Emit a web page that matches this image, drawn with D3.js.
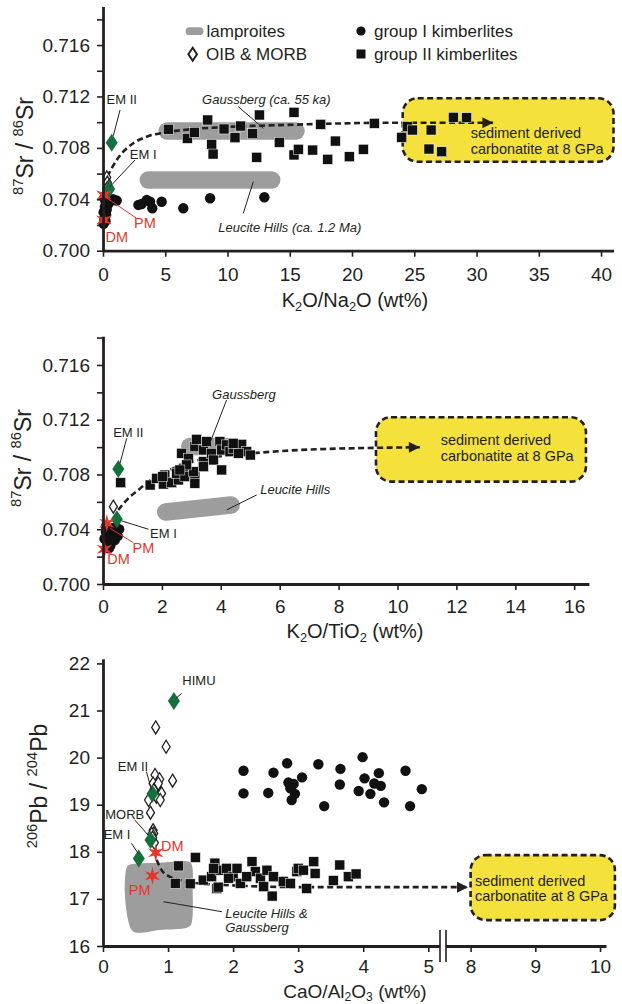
<!DOCTYPE html>
<html>
<head>
<meta charset="utf-8">
<script src="https://cdn.jsdelivr.net/npm/d3@7"></script>
<style>
  body { margin: 0; background: #fff; }
  svg { display: block; font-family: "Liberation Sans", Arial, Helvetica, sans-serif; }
</style>
</head>
<body>
<script>
var width = 622,
    height = 1004,
    ink = "#231f20",
    green = "#16703d",
    red = "#e2382c",
    grey = "#9d9d9d",
    yellow = "#f5e13b";

// ---- panel 1 : 87Sr/86Sr vs K2O/Na2O ----
var p1XTicks = [0, 5, 10, 15, 20, 25, 30, 35, 40];
var p1YTicks = [0.700, 0.702, 0.704, 0.706, 0.708, 0.710, 0.712, 0.714, 0.716, 0.718];
var p1Group1 = [[0.05, 0.7030], [0.1, 0.7025], [0.15, 0.7034], [0.2, 0.7038], [0.3, 0.7032], [0.4, 0.7036],
  [0.55, 0.7038], [0.8, 0.7040], [1.1, 0.7039], [0.25, 0.7028], [0.1, 0.7041], [0.35, 0.7040], [0.05, 0.7021],
  [0.2, 0.7023], [2.84, 0.70356], [3.1, 0.70363], [3.51, 0.70394], [3.78, 0.70381], [3.96, 0.7033],
  [4.71, 0.70381], [6.45, 0.7033], [8.6, 0.70408], [12.96, 0.70416]];
var p1Group2 = [[5.25, 0.70945], [6.77, 0.70874], [7.33, 0.70921], [8.41, 0.71017], [8.73, 0.70828],
  [8.84, 0.70752], [9.72, 0.70947], [10.6, 0.70879], [11.06, 0.7097], [12.02, 0.7091], [12.56, 0.71056],
  [12.35, 0.70727], [14.16, 0.70843], [15.34, 0.71077], [15.34, 0.70745], [15.69, 0.70789], [16.84, 0.70783],
  [17.48, 0.70983], [18.05, 0.70711], [18.66, 0.70853], [19.78, 0.70731], [20.91, 0.70789], [21.79, 0.70991],
  [23.99, 0.70882], [24.44, 0.70965], [24.85, 0.70939], [26.35, 0.70939], [26.18, 0.70791], [27.2, 0.7077],
  [28.14, 0.71038], [29.2, 0.71035]];
var p1Oib = [[0.3, 0.7057], [0.35, 0.7053], [0.45, 0.7050], [0.3, 0.7048]];
var p1EndMembers = [{name: "EM II", x: 0.7, y: 0.7084}, {name: "EM I", x: 0.5, y: 0.7048}];
var p1Mantle = [{name: "PM", x: 0.08, y: 0.70433}, {name: "DM", x: 0.08, y: 0.70239}];
var p1Lamproites = [
  {name: "Gaussberg (ca. 55 ka)", from: [5.16, 0.70931], to: [15.5, 0.70931]},
  {name: "Leucite Hills (ca. 1.2 Ma)", from: [3.64, 0.70550], to: [13.55, 0.70550]}];
var p1Trend = [[0.35, 0.70576], [0.7, 0.70641], [1.1, 0.70706], [1.63, 0.7077], [2.43, 0.70836],
  [3.51, 0.70887], [4.84, 0.70918], [6.45, 0.70939], [10.47, 0.70965], [14.48, 0.70978],
  [23.86, 0.70996], [31.35, 0.70996]];
var p1Box = {x0: 24.07, x1: 41.0, y0: 0.70692, y1: 0.71186};

// ---- panel 2 : 87Sr/86Sr vs K2O/TiO2 ----
var p2XTicks = [0, 2, 4, 6, 8, 10, 12, 14, 16];
var p2YTicks = [0.700, 0.702, 0.704, 0.706, 0.708, 0.710, 0.712, 0.714, 0.716, 0.718];
var p2Group1 = [[0.1, 0.7038], [0.2, 0.7034], [0.3, 0.7036], [0.15, 0.7030], [0.25, 0.7028], [0.35, 0.7041],
  [0.45, 0.7039], [0.5, 0.7035], [0.4, 0.7032], [0.1, 0.7042], [0.2, 0.7026], [0.05, 0.7033], [0.55, 0.7040]];
var p2Group2 = [[0.6, 0.7074], [1.6, 0.70723], [1.82, 0.70772], [2.1, 0.70796], [2.05, 0.7073], [2.33, 0.7074],
  [2.56, 0.7076], [2.5, 0.70809], [2.73, 0.70845], [2.78, 0.70784], [3.12, 0.70784], [3.07, 0.7082],
  [2.67, 0.70955], [2.9, 0.70918], [3.12, 0.71003], [3.18, 0.71057], [3.41, 0.70979], [3.52, 0.7104],
  [3.41, 0.70894], [3.69, 0.70955], [3.75, 0.70906], [3.97, 0.7104], [4.03, 0.70979], [4.2, 0.71016],
  [4.03, 0.70833], [4.31, 0.70967], [4.42, 0.70991], [4.71, 0.7102], [4.88, 0.70967], [4.6, 0.70955],
  [2.84, 0.7087], [5.0, 0.70942], [4.42, 0.71028], [3.41, 0.70857], [3.12, 0.70736], [2.61, 0.70833],
  [2.03, 0.70784]];
var p2Oib = [[0.35, 0.70565]];
var p2EndMembers = [{name: "EM II", x: 0.52, y: 0.7084}, {name: "EM I", x: 0.47, y: 0.70473}];
var p2Mantle = [{name: "PM", x: 0.13, y: 0.70443}, {name: "DM", x: 0.05, y: 0.70254}];
var p2Lamproites = [
  {name: "Gaussberg", from: [2.95, 0.71005], to: [4.2, 0.71005]},
  {name: "Leucite Hills", from: [2.13, 0.70526], to: [4.35, 0.70577]}];
var p2Trend = [[0.52, 0.70541], [0.86, 0.70626], [1.2, 0.70687], [1.54, 0.70747], [2.27, 0.70833],
  [3.29, 0.70906], [4.31, 0.70942], [5.05, 0.70955], [6.69, 0.70979], [10.76, 0.70999]];
var p2Box = {x0: 9.27, x1: 16.4, y0: 0.70748, y1: 0.71218};

// ---- panel 3 : 206Pb/204Pb vs CaO/Al2O3 (broken x axis) ----
var p3XTicks = [0, 1, 2, 3, 4, 5, 8, 9, 10];
var p3YTicks = [16, 17, 18, 19, 20, 21, 22];
var p3Group1 = [[2.16, 19.72], [2.16, 19.24], [2.54, 19.25], [2.62, 19.68], [2.83, 19.88], [2.85, 19.47],
  [2.93, 19.44], [3.06, 19.58], [2.95, 19.23], [2.9, 19.1], [3.31, 19.86], [3.65, 19.76], [3.64, 19.43],
  [3.4, 18.97], [3.99, 20.01], [4.02, 19.56], [4.24, 19.67], [4.17, 19.45], [4.27, 19.4], [3.93, 19.29],
  [4.11, 19.23], [4.32, 19.05], [4.65, 19.72], [4.72, 18.97], [4.9, 19.33], [2.88, 19.35]];
var p3Group2 = [[1.42, 17.88], [1.16, 17.7], [1.11, 17.33], [1.34, 17.32], [1.54, 17.4], [1.72, 17.76],
  [1.75, 17.22], [1.67, 17.47], [1.8, 17.61], [1.9, 17.65], [2.0, 17.47], [2.06, 17.65], [1.93, 17.44],
  [2.11, 17.33], [2.29, 17.79], [2.34, 17.58], [2.21, 17.47], [2.42, 17.44], [2.52, 17.61], [2.62, 17.47],
  [2.6, 17.06], [2.77, 17.37], [2.98, 17.58], [2.47, 17.26], [2.88, 17.33], [1.7, 17.65], [3.0, 17.65],
  [3.13, 17.22], [3.24, 17.79], [3.26, 17.54], [3.08, 17.61], [3.64, 17.72], [3.77, 17.47], [3.89, 17.53],
  [3.54, 17.39], [1.77, 17.25]];
var p3Oib = [[0.81, 20.64], [0.97, 20.23], [1.07, 19.51], [0.8, 19.63], [0.87, 19.54], [0.77, 19.45],
  [0.83, 19.38], [0.9, 19.24], [0.7, 19.1], [0.82, 19.17], [0.73, 18.83], [0.77, 18.46], [0.78, 18.39],
  [0.75, 18.38], [0.79, 18.19], [0.78, 19.31], [0.85, 19.45], [0.88, 19.1], [0.76, 18.3]];
var p3EndMembers = [{name: "HIMU", x: 1.09, y: 21.2}, {name: "EM II", x: 0.76, y: 19.23},
  {name: "MORB", x: 0.73, y: 18.25}, {name: "EM I", x: 0.55, y: 17.86}];
var p3Mantle = [{name: "DM", x: 0.81, y: 17.98}, {name: "PM", x: 0.76, y: 17.49}];
// outline of the Leucite Hills & Gaussberg field
var p3Lamproites = [[0.415, 17.73], [0.876, 17.77], [1.276, 17.80], [1.353, 17.76], [1.379, 17.13],
  [1.353, 16.45], [1.291, 16.39], [0.876, 16.34], [0.538, 16.28], [0.446, 16.33], [0.338, 17.04],
  [0.369, 17.68]];
var p3Trend = [[0.825, 17.83], [0.9, 17.61], [1.03, 17.47], [1.18, 17.4], [1.39, 17.34], [1.95, 17.29],
  [3.03, 17.25], [7.96, 17.25]];
var p3Box = {x0: 8.0, x1: 10.23, y0: 16.55, y1: 17.93};

// ---- scales ----
var x1 = d3.scaleLinear().domain([0, 41]).range([103, 613.5]),
    y1 = d3.scaleLinear().domain([0.700, 0.719]).range([250.7, 6.5]),
    x2 = d3.scaleLinear().domain([0, 16.5]).range([103, 588.9]),
    y2 = d3.scaleLinear().domain([0.700, 0.7181]).range([584, 336.2]),
    x3 = d3.scaleLinear().domain([0, 5.18, 7.62, 10.1]).range([103, 440, 446, 606.5]),
    y3 = d3.scaleLinear().domain([16, 22.1]).range([946, 658.7]);

var svg = d3.select("body").append("svg")
    .attr("width", width)
    .attr("height", height);

var defs = svg.append("defs");
defs.append("marker")
    .attr("id", "arrow")
    .attr("viewBox", "0 0 10 10")
    .attr("refX", 10).attr("refY", 5)
    .attr("markerUnits", "userSpaceOnUse")
    .attr("markerWidth", 17).attr("markerHeight", 11)
    .attr("orient", "auto")
  .append("path")
    .attr("d", "M0,0L10,5L0,10Z")
    .attr("fill", ink);

// symbol shapes
function diamond(hw, hh) {
  return { draw: function(c) {
    c.moveTo(0, -hh); c.lineTo(hw, 0); c.lineTo(0, hh); c.lineTo(-hw, 0); c.closePath();
  }};
}
var star6 = { draw: function(c) {
  for (var i = 0; i < 12; i++) {
    var a = Math.PI * i / 6 - Math.PI / 2, r = i % 2 ? 3.2 : 9;
    if (i) c.lineTo(r * Math.cos(a), r * Math.sin(a)); else c.moveTo(r * Math.cos(a), r * Math.sin(a));
  }
  c.closePath();
}};

// text with sub/superscripts: parts = [[text, "sub"|"sup"|undefined], ...]
function rich(text, parts, size) {
  var shift = 0;
  parts.forEach(function(p) {
    var s = p[1] === "sub" ? size * 0.2 : p[1] === "sup" ? -size * 0.42 : 0;
    text.append("tspan")
        .attr("dy", s - shift)
        .attr("font-size", p[1] ? size * 0.64 : size)
        .text(p[0]);
    shift = s;
  });
  return text;
}

function styleAxis(g) {
  g.attr("font-family", null).attr("font-size", 19);
  g.selectAll("text").attr("fill", ink);
  g.selectAll(".tick line").attr("stroke", ink).attr("stroke-width", 1.6);
  g.select(".domain").attr("stroke", ink).attr("stroke-width", 2.8);
}

function axes(g, x, y, xTicks, yTicks, yFmt, xPad) {
  g.append("g")
      .attr("transform", "translate(0," + y.range()[0] + ")")
      .call(d3.axisBottom(x).tickValues(xTicks).tickSize(6).tickPadding(xPad).tickSizeOuter(0))
      .call(styleAxis);
  g.append("g")
      .attr("transform", "translate(" + x.range()[0] + ",0)")
      .call(d3.axisLeft(y).tickValues(yTicks).tickFormat(yFmt).tickSize(6).tickPadding(7).tickSizeOuter(0))
      .call(styleAxis);
}

function yTitle(g, cx, cy, parts) {
  rich(g.append("text")
      .attr("transform", "translate(" + cx + "," + cy + ") rotate(-90)")
      .attr("text-anchor", "middle")
      .attr("fill", ink), parts, 23);
}

function xTitle(g, cy, parts, size) {
  rich(g.append("text")
      .attr("x", 355).attr("y", cy)
      .attr("text-anchor", "middle")
      .attr("fill", ink), parts, size || 20);
}

function box(g, x, y, b, dx, dy) {
  g.append("rect")
      .attr("x", x(b.x0)).attr("y", y(b.y1))
      .attr("width", x(b.x1) - x(b.x0)).attr("height", y(b.y0) - y(b.y1))
      .attr("rx", 15).attr("ry", 15)
      .attr("fill", yellow)
      .attr("stroke", ink).attr("stroke-width", 2.6)
      .attr("stroke-dasharray", "6,3.5");
  var t = g.append("text")
      .attr("x", x(b.x0) + dx).attr("y", y(b.y1) + dy)
      .attr("font-size", 14.5).attr("fill", ink);
  t.append("tspan").attr("x", x(b.x0) + dx).attr("dy", "0.35em").text("sediment derived");
  t.append("tspan").attr("x", x(b.x0) + dx).attr("dy", 15.5).text("carbonatite at 8 GPa");
}

function trend(g, x, y, pts) {
  g.append("path")
      .datum(pts)
      .attr("d", d3.line().x(function(d) { return x(d[0]); }).y(function(d) { return y(d[1]); })
        .curve(d3.curveMonotoneX))
      .attr("fill", "none")
      .attr("stroke", ink).attr("stroke-width", 2.6)
      .attr("stroke-dasharray", "6,3.5")
      .attr("marker-end", "url(#arrow)");
}

function band(g, x, y, b, w) {
  g.append("line")
      .attr("x1", x(b.from[0])).attr("y1", y(b.from[1]))
      .attr("x2", x(b.to[0])).attr("y2", y(b.to[1]))
      .attr("stroke", grey).attr("stroke-width", w)
      .attr("stroke-linecap", "round");
}

function points(g, x, y, g1, g2, oib, ends, mantle) {
  g.selectAll(null).data(g2).enter().append("rect")
      .attr("x", function(d) { return x(d[0]) - 5; })
      .attr("y", function(d) { return y(d[1]) - 5; })
      .attr("width", 10).attr("height", 10)
      .attr("fill", "#111").attr("stroke", "#fff").attr("stroke-width", 0.5);
  g.selectAll(null).data(g1).enter().append("circle")
      .attr("cx", function(d) { return x(d[0]); })
      .attr("cy", function(d) { return y(d[1]); })
      .attr("r", 5.2)
      .attr("fill", "#111");
  g.selectAll(null).data(oib).enter().append("path")
      .attr("transform", function(d) { return "translate(" + x(d[0]) + "," + y(d[1]) + ")"; })
      .attr("d", d3.symbol().type(diamond(4, 6.5)))
      .attr("fill", "#fff").attr("stroke", ink).attr("stroke-width", 1.3);
  g.selectAll(null).data(ends).enter().append("path")
      .attr("transform", function(d) { return "translate(" + x(d.x) + "," + y(d.y) + ")"; })
      .attr("d", d3.symbol().type(diamond(6, 9)))
      .attr("fill", green);
  g.selectAll(null).data(mantle).enter().append("path")
      .attr("transform", function(d) { return "translate(" + x(d.x) + "," + y(d.y) + ")"; })
      .attr("d", d3.symbol().type(star6))
      .attr("fill", red);
}

// annotation placed at a pixel offset from a data anchor, with optional leader line
function note(g, x, y, d, o) {
  var px = x(d.x), py = y(d.y), col = o.color || ink;
  if (o.l) {
    g.append("line")
        .attr("x1", px + o.l[0]).attr("y1", py + o.l[1])
        .attr("x2", px + o.l[2]).attr("y2", py + o.l[3])
        .attr("stroke", col).attr("stroke-width", 1);
  }
  var lines = o.text.split("\n");
  var t = g.append("text")
      .attr("font-size", o.size || 13)
      .attr("font-style", o.italic ? "italic" : null)
      .attr("text-anchor", o.anchor || "middle")
      .attr("fill", col);
  lines.forEach(function(s, i) {
    t.append("tspan")
        .attr("x", px + o.dx)
        .attr("y", py + o.dy + i * 14)
        .attr("dy", "0.35em")
        .text(s);
  });
}

// ---------- panel 1 ----------
var g1 = svg.append("g");
box(g1, x1, y1, p1Box, 68, 35);
p1Lamproites.forEach(function(b) { band(g1, x1, y1, b, 17.5); });
trend(g1, x1, y1, p1Trend);
points(g1, x1, y1, p1Group1, p1Group2, p1Oib, p1EndMembers, p1Mantle);
axes(g1, x1, y1, p1XTicks, p1YTicks, function(d, i) { return i % 2 ? "" : d3.format(".3f")(d); }, 11);
yTitle(g1, 33, 146, [["87", "sup"], ["Sr / "], ["86", "sup"], ["Sr"]]);
xTitle(g1, 307, [["K"], ["2", "sub"], ["O/Na"], ["2", "sub"], ["O (wt%)"]]);

note(g1, x1, y1, p1EndMembers[0], {text: "EM II", dx: 10, dy: -43.4, l: [8.3, -32.7, 1.6, -7]});
note(g1, x1, y1, p1EndMembers[1], {text: "EM I", dx: 34, dy: -34.7, l: [25.7, -29, 0.7, -2.3]});
note(g1, x1, y1, p1Mantle[0], {text: "PM", dx: 41, dy: 28.3, size: 14.5, color: red, l: [32.7, 23.3, 1, 1.7]});
note(g1, x1, y1, p1Mantle[1], {text: "DM", dx: 12.7, dy: 17.3, size: 14.5, color: red});
note(g1, x1, y1, {x: 12.88, y: 0.70952}, {text: p1Lamproites[0].name, italic: true, anchor: "start",
  dx: -61.3, dy: -29.3, l: [-25, -21.6, 0, 0]});
note(g1, x1, y1, {x: 12.07, y: 0.70537}, {text: p1Lamproites[1].name, italic: true, anchor: "start",
  dx: -35, dy: 46, l: [-10, 31.6, 0, 0]});

// legend
var lg = svg.append("g").attr("font-size", 17).attr("fill", ink);
lg.append("line").attr("x1", 189.5).attr("x2", 199.5).attr("y1", 31.2).attr("y2", 31.2)
    .attr("stroke", grey).attr("stroke-width", 7.8).attr("stroke-linecap", "round");
lg.append("text").attr("x", 206.5).attr("y", 30.8).attr("dy", "0.35em").text("lamproites");
lg.append("path").attr("transform", "translate(192.7,54.3)")
    .attr("d", d3.symbol().type(diamond(4.3, 6.5)))
    .attr("fill", "#fff").attr("stroke", ink).attr("stroke-width", 2);
lg.append("text").attr("x", 206).attr("y", 54.3).attr("dy", "0.35em").text("OIB & MORB");
lg.append("circle").attr("cx", 361).attr("cy", 31).attr("r", 4.6).attr("fill", "#111");
lg.append("text").attr("x", 374).attr("y", 30.8).attr("dy", "0.35em").text("group I kimberlites");
lg.append("rect").attr("x", 356.5).attr("y", 49.5).attr("width", 9).attr("height", 9).attr("fill", "#111");
lg.append("text").attr("x", 374).attr("y", 54.3).attr("dy", "0.35em").text("group II kimberlites");

// ---------- panel 2 ----------
var g2 = svg.append("g");
box(g2, x2, y2, p2Box, 64.7, 22.7);
p2Lamproites.forEach(function(b) { band(g2, x2, y2, b, 17.5); });
trend(g2, x2, y2, p2Trend);
points(g2, x2, y2, p2Group1, p2Group2, p2Oib, p2EndMembers, p2Mantle);
axes(g2, x2, y2, p2XTicks, p2YTicks, function(d, i) { return i % 2 ? "" : d3.format(".3f")(d); }, 10);
yTitle(g2, 31, 458, [["87", "sup"], ["Sr / "], ["86", "sup"], ["Sr"]]);
xTitle(g2, 638, [["K"], ["2", "sub"], ["O/TiO"], ["2", "sub"], [" (wt%)"]]);

note(g2, x2, y2, p2EndMembers[0], {text: "EM II", dx: 10, dy: -36.3, l: [8.4, -30.7, 1.7, -5.7]});
note(g2, x2, y2, p2EndMembers[1], {text: "EM I", dx: 46.6, dy: 14, l: [31.6, 10, 5, 1.7]});
note(g2, x2, y2, p2Mantle[0], {text: "PM", dx: 36.6, dy: 25, size: 14.5, color: red, l: [26.6, 19.4, 3.3, 5]});
note(g2, x2, y2, p2Mantle[1], {text: "DM", dx: 14, dy: 10, size: 14.5, color: red});
note(g2, x2, y2, {x: 3.63, y: 0.71028}, {text: p2Lamproites[0].name, italic: true,
  dx: 34, dy: -49.3, l: [16.7, -43.3, 0, 0]});
note(g2, x2, y2, {x: 4.2, y: 0.70541}, {text: p2Lamproites[1].name, italic: true, anchor: "start",
  dx: 33.5, dy: -20, l: [30, -15, 0, 0]});

// ---------- panel 3 ----------
var g3 = svg.append("g");
g3.append("path")
    .datum(p3Lamproites)
    .attr("d", d3.line().x(function(d) { return x3(d[0]); }).y(function(d) { return y3(d[1]); })
      .curve(d3.curveCatmullRomClosed.alpha(0.5)))
    .attr("fill", grey);
box(g3, x3, y3, p3Box, 4.3, 25.7);
trend(g3, x3, y3, p3Trend);
points(g3, x3, y3, p3Group1, p3Group2, p3Oib, p3EndMembers, p3Mantle);
axes(g3, x3, y3, p3XTicks, p3YTicks, d3.format("d"), 8);

// broken x axis: two segments with a double bar at the gap
var xb = g3.select("g");
xb.select(".domain").remove();
[[0, 5.18], [7.62, 10.1]].forEach(function(s) {
  g3.append("line")
      .attr("x1", x3(s[0])).attr("x2", x3(s[1]))
      .attr("y1", y3(16) + 0.5).attr("y2", y3(16) + 0.5)
      .attr("stroke", ink).attr("stroke-width", 2.8);
});
[5.18, 7.62].forEach(function(v) {
  g3.append("line")
      .attr("x1", x3(v)).attr("x2", x3(v))
      .attr("y1", y3(16) - 16).attr("y2", y3(16) + 16)
      .attr("stroke", ink).attr("stroke-width", 1.6);
});

yTitle(g3, 47, 786, [["206", "sup"], ["Pb / "], ["204", "sup"], ["Pb"]]);
xTitle(g3, 997.5, [["CaO/Al"], ["2", "sub"], ["O"], ["3", "sub"], [" (wt%)"]], 19);

note(g3, x3, y3, p3EndMembers[0], {text: "HIMU", dx: 25, dy: -20.3, l: [7.7, -7.7, 2, -2.7]});
note(g3, x3, y3, p3EndMembers[1], {text: "EM II", dx: -19.4, dy: -27.3, l: [-6, -22.3, -1, -4]});
note(g3, x3, y3, p3EndMembers[2], {text: "MORB", dx: -25.7, dy: -26, l: [-15.7, -20, -2.4, -5]});
note(g3, x3, y3, p3EndMembers[3], {text: "EM I", dx: -21.7, dy: -24, l: [-7.3, -15, -0.7, -5]});
note(g3, x3, y3, p3Mantle[0], {text: "DM", dx: 16.6, dy: -7, size: 14.5, color: red});
note(g3, x3, y3, p3Mantle[1], {text: "PM", dx: -12.7, dy: 14, size: 14.5, color: red});
note(g3, x3, y3, {x: 0.93, y: 16.94}, {text: "Leucite Hills &\nGaussberg", italic: true, anchor: "start",
  dx: 61.7, dy: 11.5, l: [58.4, 10, 0, 0]});
</script>
</body>
</html>
